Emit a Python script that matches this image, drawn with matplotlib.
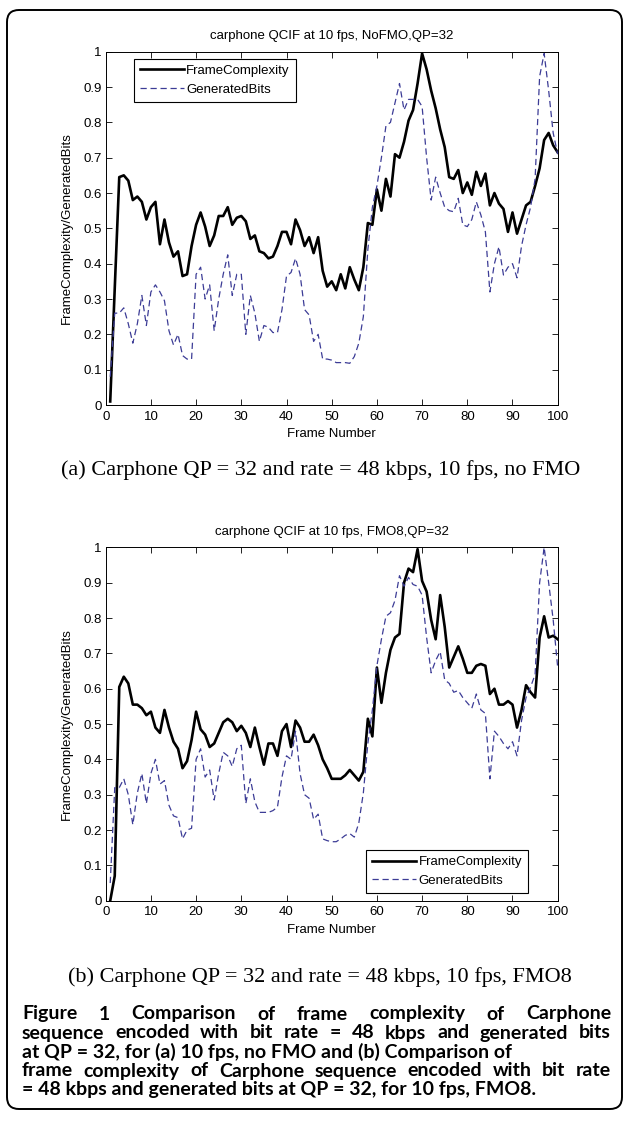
import numpy as np
import matplotlib
matplotlib.use("Agg")
import matplotlib.pyplot as plt
from matplotlib.patches import FancyBboxPatch
from matplotlib.transforms import IdentityTransform

plt.rcParams['font.family'] = ['Liberation Sans', 'DejaVu Sans']

frames = np.arange(1, 101)

# (a) NoFMO
fc_nofmo = [0.01, 0.33, 0.645, 0.65, 0.635, 0.58, 0.59, 0.575, 0.525, 0.56,
            0.575, 0.455, 0.525, 0.46, 0.42, 0.435, 0.365, 0.37, 0.45, 0.51,
            0.545, 0.505, 0.45, 0.48, 0.535, 0.535, 0.56, 0.51, 0.53, 0.535,
            0.52, 0.47, 0.48, 0.435, 0.43, 0.415, 0.42, 0.45, 0.49, 0.49,
            0.455, 0.525, 0.495, 0.45, 0.475, 0.43, 0.475, 0.38, 0.335, 0.35,
            0.325, 0.37, 0.33, 0.39, 0.355, 0.325, 0.39, 0.515, 0.51, 0.61,
            0.55, 0.64, 0.59, 0.71, 0.70, 0.745, 0.805, 0.835, 0.91, 0.995,
            0.95, 0.89, 0.84, 0.78, 0.73, 0.645, 0.64, 0.665, 0.60, 0.63,
            0.595, 0.66, 0.62, 0.655, 0.565, 0.60, 0.57, 0.555, 0.49, 0.545,
            0.485, 0.525, 0.565, 0.575, 0.62, 0.67, 0.75, 0.77, 0.735, 0.715]
gb_nofmo = [0.08, 0.26, 0.26, 0.275, 0.23, 0.175, 0.23, 0.31, 0.225, 0.32,
            0.34, 0.32, 0.295, 0.21, 0.17, 0.20, 0.14, 0.13, 0.13, 0.37,
            0.39, 0.30, 0.34, 0.21, 0.30, 0.37, 0.425, 0.31, 0.37, 0.37,
            0.20, 0.31, 0.26, 0.18, 0.225, 0.22, 0.205, 0.205, 0.27, 0.365,
            0.375, 0.415, 0.37, 0.27, 0.255, 0.18, 0.20, 0.13, 0.13, 0.127,
            0.12, 0.12, 0.12, 0.118, 0.137, 0.175, 0.25, 0.44, 0.56, 0.62,
            0.70, 0.79, 0.80, 0.855, 0.91, 0.835, 0.865, 0.865, 0.865, 0.845,
            0.70, 0.58, 0.645, 0.60, 0.56, 0.55, 0.547, 0.585, 0.51, 0.505,
            0.525, 0.575, 0.538, 0.49, 0.32, 0.40, 0.448, 0.368, 0.39, 0.40,
            0.36, 0.45, 0.51, 0.56, 0.64, 0.93, 0.995, 0.89, 0.77, 0.71]

# (b) FMO8
fc_fmo8 = [0.0, 0.07, 0.605, 0.634, 0.615, 0.555, 0.555, 0.545, 0.525, 0.535,
           0.49, 0.475, 0.54, 0.49, 0.45, 0.43, 0.375, 0.395, 0.455, 0.535,
           0.485, 0.47, 0.435, 0.445, 0.475, 0.505, 0.515, 0.505, 0.48, 0.495,
           0.475, 0.435, 0.49, 0.435, 0.385, 0.445, 0.445, 0.41, 0.48, 0.50,
           0.435, 0.51, 0.49, 0.45, 0.45, 0.47, 0.44, 0.40, 0.375, 0.345,
           0.345, 0.345, 0.355, 0.37, 0.355, 0.34, 0.365, 0.515, 0.465, 0.66,
           0.56, 0.645, 0.71, 0.745, 0.755, 0.90, 0.94, 0.93, 0.995, 0.905,
           0.875, 0.795, 0.74, 0.865, 0.775, 0.66, 0.69, 0.72, 0.685, 0.645,
           0.645, 0.665, 0.67, 0.665, 0.585, 0.60, 0.555, 0.555, 0.565, 0.555,
           0.49, 0.54, 0.61, 0.59, 0.575, 0.745, 0.805, 0.745, 0.75, 0.74]
gb_fmo8 = [0.05, 0.32, 0.32, 0.345, 0.30, 0.215, 0.305, 0.36, 0.275, 0.36,
           0.40, 0.33, 0.34, 0.27, 0.24, 0.235, 0.175, 0.20, 0.205, 0.40,
           0.43, 0.35, 0.37, 0.285, 0.36, 0.42, 0.41, 0.38, 0.43, 0.44,
           0.275, 0.345, 0.28, 0.25, 0.25, 0.25, 0.255, 0.265, 0.35, 0.41,
           0.40, 0.48, 0.36, 0.30, 0.29, 0.23, 0.245, 0.175, 0.17, 0.167,
           0.167, 0.175, 0.185, 0.19, 0.18, 0.22, 0.305, 0.445, 0.54, 0.665,
           0.74, 0.805, 0.815, 0.85, 0.92, 0.89, 0.915, 0.895, 0.89, 0.865,
           0.745, 0.645, 0.68, 0.705, 0.625, 0.615, 0.59, 0.595, 0.575, 0.56,
           0.545, 0.585, 0.54, 0.53, 0.345, 0.48, 0.465, 0.445, 0.43, 0.45,
           0.41, 0.51, 0.575, 0.605, 0.64, 0.90, 1.0, 0.90, 0.795, 0.66]

xticks = [0, 10, 20, 30, 40, 50, 60, 70, 80, 90, 100]
yticks = [0, 0.1, 0.2, 0.3, 0.4, 0.5, 0.6, 0.7, 0.8, 0.9, 1]
ytick_labels = ['0', '0.1', '0.2', '0.3', '0.4', '0.5', '0.6', '0.7', '0.8', '0.9', '1']

titles = ['carphone QCIF at 10 fps, NoFMO,QP=32', 'carphone QCIF at 10 fps, FMO8,QP=32']
sub_captions = ['(a) Carphone QP = 32 and rate = 48 kbps, 10 fps, no FMO',
                '(b) Carphone QP = 32 and rate = 48 kbps, 10 fps, FMO8']
caption_lines = ['Figure 1 Comparison of frame complexity of Carphone',
                 'sequence encoded with bit rate = 48 kbps and generated bits',
                 'at QP = 32, for (a) 10 fps, no FMO and (b) Comparison of',
                 'frame complexity of Carphone sequence encoded with bit rate',
                 '= 48 kbps and generated bits at QP = 32, for 10 fps, FMO8.']

W, H = 629, 1130
fig = plt.figure(figsize=(W / 100, H / 100), dpi=100)
fig.patch.set_facecolor('white')

dash_col = '#3c3c96'
fs = 9.5

axes_specs = [
    (fc_nofmo, gb_nofmo, 405.0, 'upper left', (0.063, 0.98)),
    (fc_fmo8, gb_fmo8, 900.7, 'lower right', (0.934, 0.022)),
]
for i, (fc, gb, ybot, lloc, lanchor) in enumerate(axes_specs):
    ax = fig.add_axes([105.7 / W, 1 - ybot / H, 452 / W, 353.3 / H])
    ax.plot(frames, fc, color='black', lw=1.9, label='FrameComplexity')
    ax.plot(frames, gb, color=dash_col, lw=0.9, dashes=(5, 3), label='GeneratedBits')
    ax.set_xlim(0, 100)
    ax.set_ylim(0, 1)
    ax.set_xticks(xticks)
    ax.set_yticks(yticks)
    ax.set_yticklabels(ytick_labels)
    ax.tick_params(direction='in', top=True, right=True, length=4, width=0.6,
                   labelsize=fs, pad=3)
    ax.tick_params(axis='x', pad=4)
    for sp in ax.spines.values():
        sp.set_linewidth(0.7)
    ax.set_title(titles[i], fontsize=fs, pad=9)
    ax.set_xlabel('Frame Number', fontsize=fs)
    ax.set_ylabel('FrameComplexity/GeneratedBits', fontsize=fs)
    ax.xaxis.set_label_coords(0.5, -0.065)
    ax.yaxis.set_label_coords(-0.072, 0.5)
    leg = ax.legend(loc=lloc, bbox_to_anchor=lanchor, borderaxespad=0,
                    fontsize=fs, fancybox=False, framealpha=1, edgecolor='black',
                    handlelength=3.3, handletextpad=0.2, borderpad=0.45,
                    labelspacing=0.5)
    leg.get_frame().set_linewidth(0.8)

# sub captions (serif)
fig.text(321 / W, 1 - 470 / H, sub_captions[0], ha='center', va='center',
         fontsize=16, family='Liberation Serif')
fig.text(320 / W, 1 - 977 / H, sub_captions[1], ha='center', va='center',
         fontsize=16, family='Liberation Serif')

# figure caption, justified lines
renderer = fig.canvas.get_renderer()
cap_font = dict(family='Lato', fontweight='bold')
probe = fig.text(0, 0, caption_lines[4], fontsize=10, **cap_font)
w10 = probe.get_window_extent(renderer).width
probe.remove()
cap_fs = 10 * 512 / w10

x0, x1 = 22, 611
ys = [1014, 1033, 1052, 1071, 1090]
justify = [True, True, False, True, False]
for line, yy, just in zip(caption_lines, ys, justify):
    words = line.split(' ')
    if not just:
        fig.text(x0 / W, 1 - yy / H, line, fontsize=cap_fs, va='center', **cap_font)
        continue
    arts = [fig.text(0, 1 - yy / H, wd, fontsize=cap_fs, va='center', **cap_font)
            for wd in words]
    widths = [a.get_window_extent(renderer).width for a in arts]
    gap = (x1 - x0 - sum(widths)) / (len(words) - 1)
    xp = x0
    for a, wd in zip(arts, widths):
        a.set_x(xp / W)
        xp += wd + gap

# rounded frame around the figure
box = FancyBboxPatch((7, H - 1109), 615, 1099,
                     boxstyle='round,pad=0,rounding_size=12',
                     transform=IdentityTransform(), fill=False,
                     edgecolor='black', linewidth=1.4)
fig.add_artist(box)

fig.savefig('out.png', dpi=100)
